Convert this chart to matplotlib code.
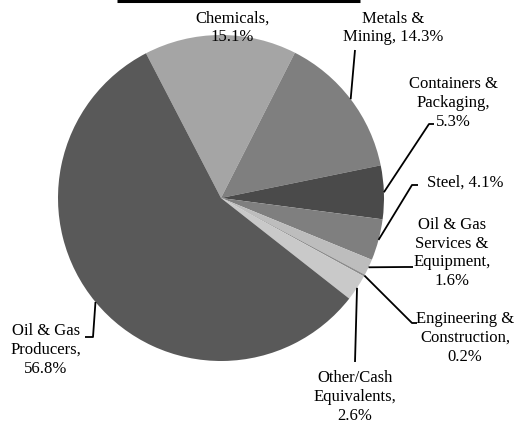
import numpy as np
import matplotlib
matplotlib.use('Agg')
import matplotlib.pyplot as plt

# Datos del gráfico
sectores = ['Chemicals', 'Metals &\nMining', 'Containers &\nPackaging', 'Steel',
            'Oil & Gas\nServices &\nEquipment', 'Engineering &\nConstruction',
            'Other/Cash\nEquivalents', 'Oil & Gas\nProducers']
porcentajes = [15.1, 14.3, 5.3, 4.1, 1.6, 0.2, 2.6, 56.8]
etiquetas = ['Chemicals,\n15.1%', 'Metals &\nMining, 14.3%', 'Containers &\nPackaging,\n5.3%',
             'Steel, 4.1%', 'Oil & Gas\nServices &\nEquipment,\n1.6%',
             'Engineering &\nConstruction,\n0.2%', 'Other/Cash\nEquivalents,\n2.6%',
             'Oil & Gas\nProducers,\n56.8%']
colores = ['#a5a5a5', '#7f7f7f', '#4a4a4a', '#7f7f7f', '#bdbdbd', '#8c8c8c', '#c9c9c9', '#595959']

# Posiciones en pixeles (centro del pie en 221,198, radio 163)
CX, CY, R = 221, 198, 163
def px(x, y):
    return ((x - CX) / R, (CY - y) / R)

pos_texto = [(232, 28), (393, 28), (453, 103), (465, 183), (452, 253),
             (465, 338), (355, 397), (46, 350)]
# codo y final de la linea guia (None = sin linea)
guias = [None,
         [(355, 50)],
         [(429, 124), (434, 124)],
         [(412, 185), (418, 185)],
         [(405, 267), (413, 267)],
         [(412, 323), (417, 323)],
         [(355, 362)],
         [(93, 337), (85, 337)]]

fig = plt.figure(figsize=(5.15, 4.24), dpi=100)
ax = fig.add_axes([0, 0, 1, 1])

wedges, _ = ax.pie(porcentajes, colors=colores, startangle=117.4, counterclock=False,
                   radius=1, wedgeprops={'linewidth': 0})

fuente = {'family': 'Liberation Serif', 'size': 12}
for w, txt, pos, g in zip(wedges, etiquetas, pos_texto, guias):
    ax.text(*px(*pos), txt, ha='center', va='center', linespacing=1.22, **fuente)
    if g is None:
        continue
    ang = np.deg2rad((w.theta1 + w.theta2) / 2)
    xs = [np.cos(ang)] + [px(*p)[0] for p in g]
    ys = [np.sin(ang)] + [px(*p)[1] for p in g]
    ax.plot(xs, ys, color='black', linewidth=1.3, solid_capstyle='butt')

# barra negra superior (titulo recortado)
x0, y0 = px(117, 1)
x1, _ = px(360, 1)
ax.plot([x0, x1], [y0, y0], color='black', linewidth=2.2, solid_capstyle='butt')

ax.set_xlim(px(0, 0)[0], px(515, 0)[0])
ax.set_ylim(px(0, 424)[1], px(0, 0)[1])
ax.axis('off')

fig.savefig('out.png', dpi=100)
